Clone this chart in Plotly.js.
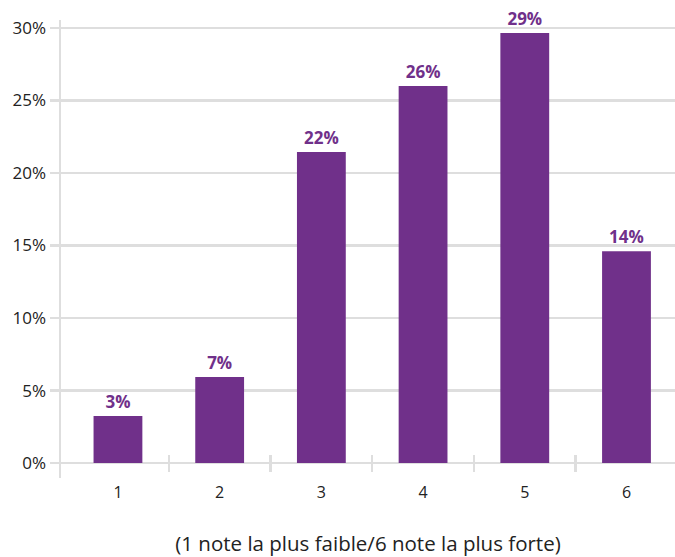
<!DOCTYPE html>
<html><head><meta charset="utf-8">
<script src="https://cdn.plot.ly/plotly-3.0.1.min.js"></script>
<style>html,body{margin:0;padding:0;background:#fff}#c{width:675px;height:557px}</style>
</head><body><div id="c"></div>
<script>
const notes = [1, 2, 3, 4, 5, 6];
const noteLabels = ['1', '2', '3', '4', '5', '6'];
const shares = [3.24, 5.93, 21.45, 26.0, 29.66, 14.6];
const shareLabels = ['3%', '7%', '22%', '26%', '29%', '14%'];
const yTicks = [0, 5, 10, 15, 20, 25, 30];
const yTickLabels = ['0%', '5%', '10%', '15%', '20%', '25%', '30%'];
const boundaries = [1.5, 2.5, 3.5, 4.5, 5.5];
const xTitle = '(1 note la plus faible/6 note la plus forte)';

const purple = '#70308a';
const grey = '#dedede';
const font = 'Open Sans, sans-serif';
const xr = [0.44, 6.477];

const traces = [
  {type: 'bar', x: notes, y: shares, width: 0.48, marker: {color: purple},
   text: shareLabels, textposition: 'outside', cliponaxis: false,
   textfont: {family: font, size: 17, color: purple, weight: 'bold'}, hoverinfo: 'none'},
  {type: 'scatter', x: [], y: [], xaxis: 'x2', showlegend: false},
  {type: 'scatter', x: [], y: [], xaxis: 'x3', showlegend: false}
];
const tickAxis = (dir) => ({
  overlaying: 'x', anchor: 'free', position: 0.0328, range: xr,
  tickvals: boundaries, showticklabels: false, ticks: dir, ticklen: 8,
  tickwidth: 2.5, tickcolor: grey, showgrid: false, zeroline: false, showline: false
});
const layout = {
  width: 675, height: 557, showlegend: false,
  paper_bgcolor: '#fff', plot_bgcolor: '#fff',
  margin: {l: 61, r: 0, t: 20, b: 79},
  font: {family: font, color: '#222'},
  xaxis: {range: xr, tickvals: notes, ticktext: noteLabels, ticks: '',
          showgrid: false, zeroline: false, showline: false, ticklabelstandoff: 3,
          tickfont: {size: 16, color: '#222'},
          title: {text: xTitle, font: {size: 20.5, color: '#222'}, standoff: 38}},
  xaxis2: tickAxis('outside'),
  xaxis3: tickAxis('inside'),
  yaxis: {range: [-1.03, 30.55], tickvals: yTicks, ticktext: yTickLabels,
          ticks: 'outside', ticklen: 9, tickwidth: 2.5, tickcolor: grey,
          showgrid: true, gridcolor: grey, gridwidth: 2.5, zeroline: false,
          showline: true, linecolor: grey, linewidth: 2.5,
          tickfont: {size: 17, color: '#222'}}
};
Plotly.newPlot('c', traces, layout, {displayModeBar: false, staticPlot: true});
</script></body></html>
